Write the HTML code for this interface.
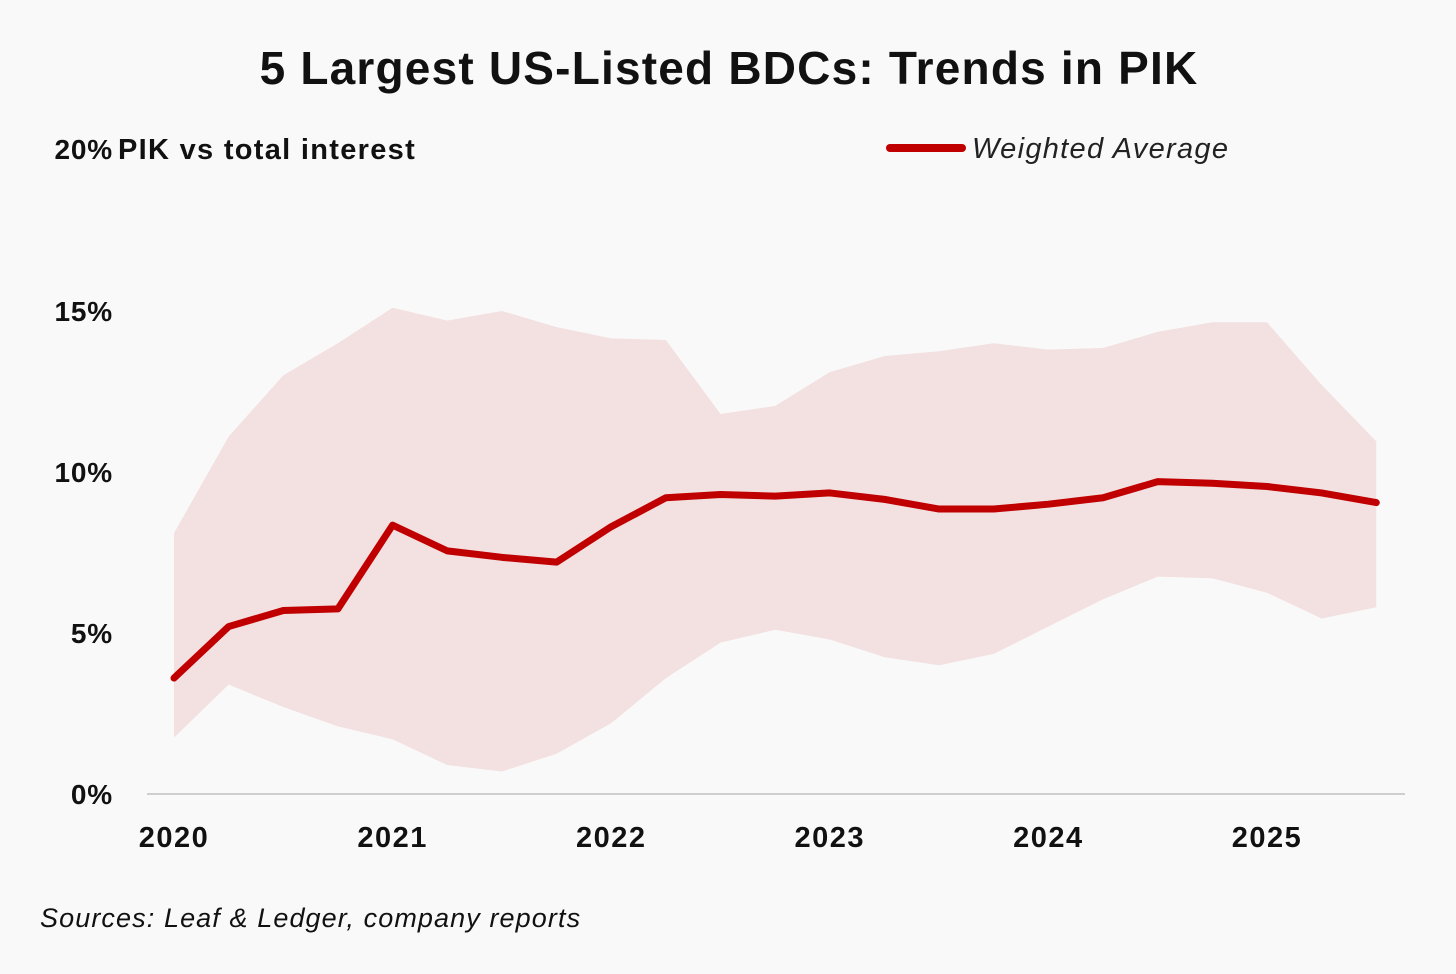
<!DOCTYPE html>
<html><head><meta charset="utf-8"><style>
html,body{margin:0;padding:0;background:#f9f9f9;}
svg{display:block;font-family:"Liberation Sans",sans-serif;}
</style></head><body>
<svg id="chart" width="1456" height="974" viewBox="0 0 1456 974">
<rect width="1456" height="974" fill="#f9f9f9"/>
<text x="729" y="84" text-anchor="middle" font-size="46" font-weight="bold" letter-spacing="1.2" fill="#111">5 Largest US-Listed BDCs: Trends in PIK</text>
<text x="118" y="159" font-size="29" font-weight="bold" letter-spacing="1.3" fill="#111">PIK vs total interest</text>
<g>
<line x1="890" y1="148" x2="962" y2="148" stroke="#c00000" stroke-width="8" stroke-linecap="round"/>
<text x="972" y="158" font-size="29" font-style="italic" letter-spacing="1.3" fill="#222">Weighted Average</text>
</g>
<text x="40" y="927" font-size="27" font-style="italic" letter-spacing="1.1" fill="#111">Sources: Leaf &amp; Ledger, company reports</text>
<g id="plot"></g>
</svg>
<script>
const years = ["2020","2021","2022","2023","2024","2025"];
const yTicks = [0,5,10,15,20];
const avg = [3.6,5.2,5.7,5.75,8.35,7.55,7.35,7.2,8.3,9.2,9.3,9.25,9.35,9.15,8.85,8.85,9.0,9.2,9.7,9.65,9.55,9.35,9.05];
const upper = [8.1,11.1,13.0,14.0,15.1,14.7,15.0,14.5,14.15,14.1,11.8,12.05,13.1,13.6,13.75,14.0,13.8,13.85,14.35,14.65,14.65,12.7,10.95];
const lower = [1.75,3.4,2.7,2.1,1.7,0.9,0.7,1.25,2.2,3.6,4.7,5.1,4.8,4.25,4.0,4.35,5.2,6.05,6.75,6.7,6.25,5.45,5.8];
const NS="http://www.w3.org/2000/svg";
const g=document.getElementById('plot');
const xq=i=>174+i*54.65;
const y=v=>794-v*32.2;
function mk(t,a){const e=document.createElementNS(NS,t);for(const k in a)e.setAttribute(k,a[k]);g.appendChild(e);return e;}
let d=upper.map((v,i)=>(i?'L':'M')+xq(i)+','+y(v)).join(' ');
for(let i=lower.length-1;i>=0;i--)d+=' L'+xq(i)+','+y(lower[i]);
const band=mk('path',{d:d+'Z',fill:'#f3e0e0'});


const ax=mk('line',{x1:147,y1:794,x2:1405,y2:794,stroke:'#cfcfcf','stroke-width':2});


yTicks.forEach(t=>{
const e=mk('text',{x:113,y:y(t)+(t===20?9:10),'text-anchor':'end','font-size':28,'font-weight':'bold','letter-spacing':0.8,fill:'#111'});e.textContent=t+'%';

});
years.forEach((yr,i)=>{const e=mk('text',{x:xq(i*4),y:847,'text-anchor':'middle','font-size':29,'font-weight':'bold','letter-spacing':1.5,fill:'#111'});e.textContent=yr;

});
const ln=mk('path',{d:avg.map((v,i)=>(i?'L':'M')+xq(i)+','+y(v)).join(' '),fill:'none',stroke:'#c00000','stroke-width':7,'stroke-linejoin':'round','stroke-linecap':'round'});


</script>
</body></html>
